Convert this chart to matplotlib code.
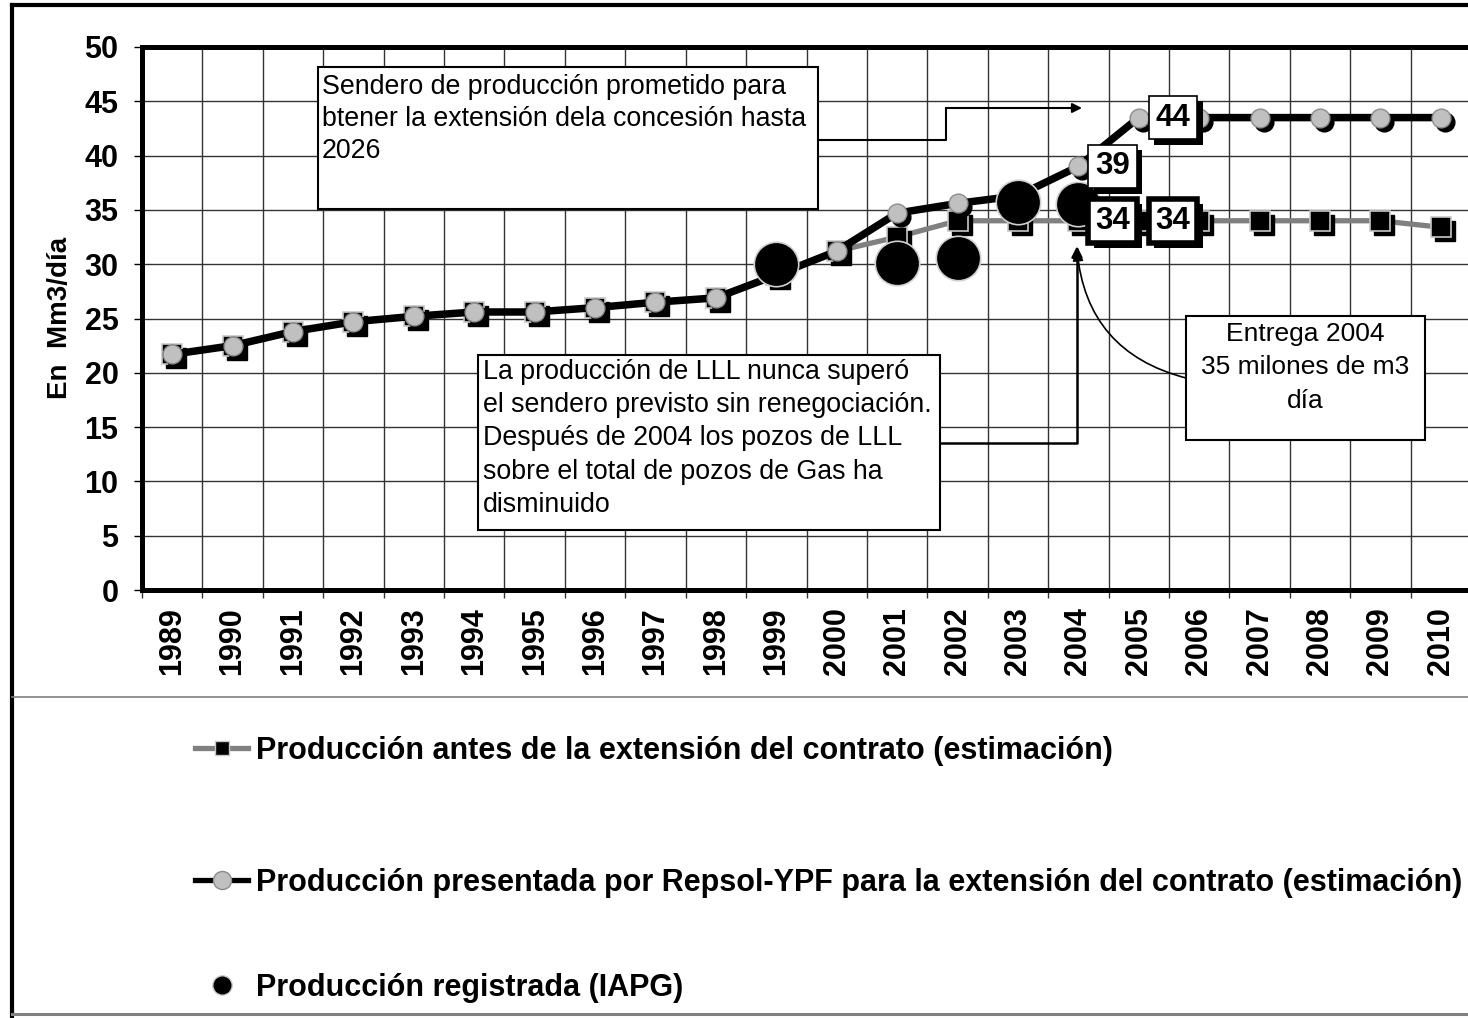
import matplotlib
matplotlib.use("Agg")
from matplotlib import pyplot as plt
from matplotlib.lines import Line2D
from matplotlib.patches import Rectangle
from matplotlib.transforms import offset_copy
import matplotlib.patheffects as pe

plt.rcParams['font.family'] = ['Liberation Sans', 'DejaVu Sans']

# data
years = ['1989', '1990', '1991', '1992', '1993', '1994', '1995', '1996', '1997', '1998', '1999',
         '2000', '2001', '2002', '2003', '2004', '2005', '2006', '2007', '2008', '2009', '2010']
antes = [21.7, 22.5, 23.8, 24.7, 25.2, 25.6, 25.6, 26.0, 26.5, 26.9, 29.0,
         31.2, 32.5, 34.0, 34.0, 34.0, 34.0, 34.0, 34.0, 34.0, 34.0, 33.4]
repsol = [21.7, 22.5, 23.8, 24.7, 25.2, 25.6, 25.6, 26.0, 26.5, 26.9, 29.0,
          31.2, 34.7, 35.6, 36.3, 39.0, 43.5, 43.5, 43.5, 43.5, 43.5, 43.5]
iapg_years = ['1999', '2001', '2002', '2003', '2004']
iapg = [30.0, 30.1, 30.6, 35.7, 35.5]

# labelled points
labels_repsol = ['2004', '2005']
labels_antes = ['2004', '2005']

W, H = 1468, 1018


def f(x, y):
    # image pixel -> figure fraction
    return (x / W, 1 - y / H)


fig = plt.figure(figsize=(W / 100, H / 100), dpi=100)
ax = fig.add_axes([142 / W, 1 - 590 / H, 1329 / W, 543 / H])

xs = list(range(len(years)))
ix = [years.index(y) for y in iapg_years]
shadow = offset_copy(ax.transData, fig=fig, x=4, y=-4, units='dots')

# series 1: antes
ax.plot(xs, antes, color='#808080', lw=3.8, zorder=3, solid_capstyle='round')
ax.plot(xs, antes, ls='none', marker='s', ms=14.5, mfc='black', mec='black', transform=shadow, zorder=3.1)
ax.plot(xs, antes, ls='none', marker='s', ms=14.5, mfc='black', mec='#c8c8c8', mew=1.2, zorder=3.2)

# series 2: repsol
ax.plot(xs, repsol, color='black', lw=5.4, zorder=4)
ax.plot(xs, repsol, ls='none', marker='o', ms=13.5, mfc='black', mec='black', transform=shadow, zorder=4.1)
ax.plot(xs, repsol, ls='none', marker='o', ms=13.5, mfc='#c0c0c0', mec='#8c8c8c', mew=1.0, zorder=4.2)

# series 3: IAPG
ax.plot(ix, iapg, ls='none', marker='o', ms=32, mfc='black', mec='#d0d0d0', mew=1.2, zorder=5)

ax.set_xlim(-0.5, len(years) - 0.5)
ax.set_ylim(0, 50)
ax.set_yticks(range(0, 51, 5))
ax.set_xticks(xs)
ax.set_xticklabels(years, rotation=90, fontsize=22, fontweight='bold')
ax.set_xticks([i - 0.5 for i in range(len(years) + 1)], minor=True)
ax.tick_params(axis='x', which='major', length=0, pad=12.5)
ax.tick_params(axis='x', which='minor', length=6, width=1, color='#333333', direction='out')
ax.tick_params(axis='y', length=6, width=1, pad=11, labelsize=22)
for t in ax.get_yticklabels():
    t.set_fontweight('bold')
ax.grid(True, axis='y', which='major', color='#333333', lw=1.0)
ax.grid(True, axis='x', which='minor', color='#333333', lw=1.0)
ax.set_axisbelow(True)
for s in ['top', 'left', 'bottom']:
    ax.spines[s].set_linewidth(3.6)
    ax.spines[s].set_zorder(6)
ax.spines['right'].set_visible(False)

fig.text(*f(60, 318), 'En  Mm3/día', rotation=90, ha='center', va='center',
         fontsize=20, fontweight='bold')


# data labels
def data_label(i, v, text, thick):
    t = ax.annotate(text, (i, v), xytext=(24.5, 0), textcoords='offset points',
                    ha='center', va='center', fontsize=22.5, fontweight='bold', zorder=8,
                    bbox=dict(boxstyle='square,pad=0.22', fc='white', ec='black',
                              lw=4 if thick else 1.2))
    t.get_bbox_patch().set_path_effects([
        pe.withSimplePatchShadow(offset=(4, -4), shadow_rgbFace='black', alpha=1.0)])


for y in labels_repsol:
    i = years.index(y)
    data_label(i, repsol[i], f'{round(repsol[i] + 0.01):.0f}', False)
for y in labels_antes:
    i = years.index(y)
    data_label(i, antes[i], f'{antes[i]:.0f}', True)


# annotation boxes
def box(x0, y0, x1, y1):
    r = Rectangle(f(x0, y1), (x1 - x0) / W, (y1 - y0) / H, transform=fig.transFigure,
                  fc='white', ec='black', lw=1.5, zorder=7, clip_on=False)
    ax.add_patch(r)


box(318, 67, 818, 209)
ax.text(*f(322, 74), 'Sendero de producción prometido para\nbtener la extensión dela concesión hasta\n2026',
        transform=fig.transFigure, ha='left', va='top', fontsize=19.3, linespacing=1.3, zorder=8)

box(478, 355, 940, 530)
ax.text(*f(483, 359), 'La producción de LLL nunca superó\nel sendero previsto sin renegociación.\n'
        'Después de 2004 los pozos de LLL\nsobre el total de pozos de Gas ha\ndisminuido',
        transform=fig.transFigure, ha='left', va='top', fontsize=19.3, linespacing=1.36, zorder=8)

box(1186, 316, 1425, 440)
ax.text(*f(1305, 322), 'Entrega 2004\n35 milones de m3\ndía', transform=fig.transFigure,
        ha='center', va='top', multialignment='center', fontsize=19, linespacing=1.5, zorder=8)

# arrows
p = [f(818, 140), f(946, 140), f(946, 108)]
fig.add_artist(Line2D([q[0] for q in p], [q[1] for q in p], color='black', lw=1.5))
ax.annotate('', xy=f(1082, 108), xycoords='figure fraction', xytext=f(946, 108),
            textcoords='figure fraction',
            arrowprops=dict(arrowstyle='-|>', color='black', lw=1.5, shrinkA=0, shrinkB=0,
                            mutation_scale=14))
ax.annotate('', xy=f(1077, 246), xycoords='figure fraction', xytext=f(940, 443),
            textcoords='figure fraction',
            arrowprops=dict(arrowstyle='-|>', color='black', lw=1.8, shrinkA=0, shrinkB=0,
                            mutation_scale=16, connectionstyle='angle,angleA=0,angleB=90,rad=0'))
ax.annotate('', xy=f(1077, 250), xycoords='figure fraction', xytext=f(1186, 378),
            textcoords='figure fraction',
            arrowprops=dict(arrowstyle='-|>', color='black', lw=1.2, shrinkA=0, shrinkB=0,
                            mutation_scale=16, connectionstyle='arc3,rad=-0.35'))

# legend
entries = [
    (Line2D([], [], color='#808080', lw=3.8, marker='s', ms=10, mfc='black', mec='#c8c8c8'),
     'Producción antes de la extensión del contrato (estimación)', 751),
    (Line2D([], [], color='black', lw=3.8, marker='o', ms=13, mfc='#c0c0c0', mec='#8c8c8c'),
     'Producción presentada por Repsol-YPF para la extensión del contrato (estimación)', 883),
    (Line2D([], [], ls='none', marker='o', ms=14, mfc='black', mec='#d0d0d0'),
     'Producción registrada (IAPG)', 988),
]
for h, lab, yy in entries:
    fig.legend([h], [lab], loc='center left', bbox_to_anchor=f(195, yy), frameon=False,
               borderpad=0, borderaxespad=0, handlelength=1.75, handletextpad=0.26,
               prop={'size': 22, 'weight': 'bold'})

# outer frame
fig.add_artist(Line2D([12 / W, 12 / W], [0, 1 - 5 / H], color='black', lw=3))
fig.add_artist(Line2D([12 / W, 1], [1 - 5 / H, 1 - 5 / H], color='black', lw=3))
fig.add_artist(Line2D([12 / W, 1], [1 - 697 / H, 1 - 697 / H], color='#808080', lw=1.2))
fig.add_artist(Line2D([12 / W, 1], [1 - 1014 / H, 1 - 1014 / H], color='#808080', lw=2.2))

fig.savefig('out.png', dpi=100)
